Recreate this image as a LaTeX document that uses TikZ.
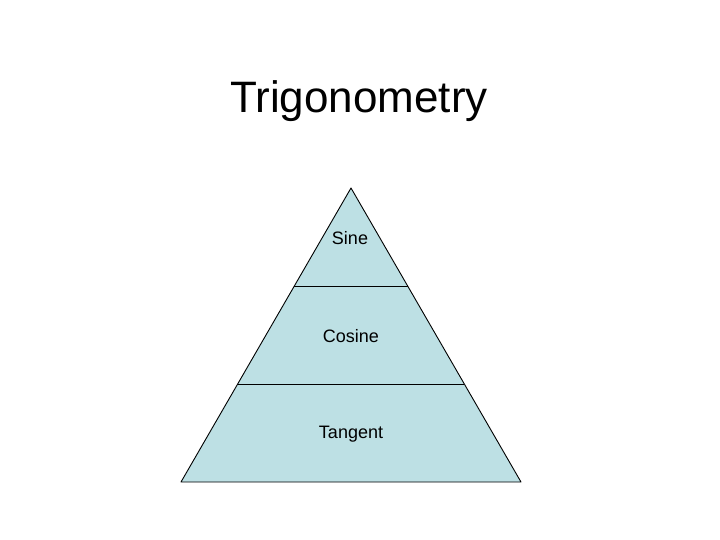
\documentclass[tikz,border=0pt]{standalone}
\usepackage{fontspec}
\setmainfont{Liberation Sans}
\usetikzlibrary{calc}
\definecolor{paleblue}{RGB}{189,224,228}
\begin{document}
\begin{tikzpicture}[x=1pt,y=-1pt,
    level/.style={font=\fontsize{18}{21}\selectfont},
    edge/.style={draw=black,line width=0.9pt}]
  \useasboundingbox (0,0) rectangle (720,540);
  \node[font=\fontsize{44}{50}\selectfont,anchor=base] (title) at (359,113) {Trigonometry};
  \coordinate (top) at (351,188);
  \coordinate (bl) at (181,482);
  \coordinate (br) at (521,482);
  \fill[paleblue] (top) -- (bl) -- (br) -- cycle;
  \draw[edge,line join=round] (top) -- (bl) -- (br) -- cycle;
  \draw[edge] ($(top)!1/3!(bl)$) -- ($(top)!1/3!(br)$);
  \draw[edge] ($(top)!2/3!(bl)$) -- ($(top)!2/3!(br)$);
  \node[level] (sine) at (350,238) {Sine};
  \node[level] (cosine) at (351,336) {Cosine};
  \node[level] (tangent) at (351,434) {Tangent};
\end{tikzpicture}
\end{document}
